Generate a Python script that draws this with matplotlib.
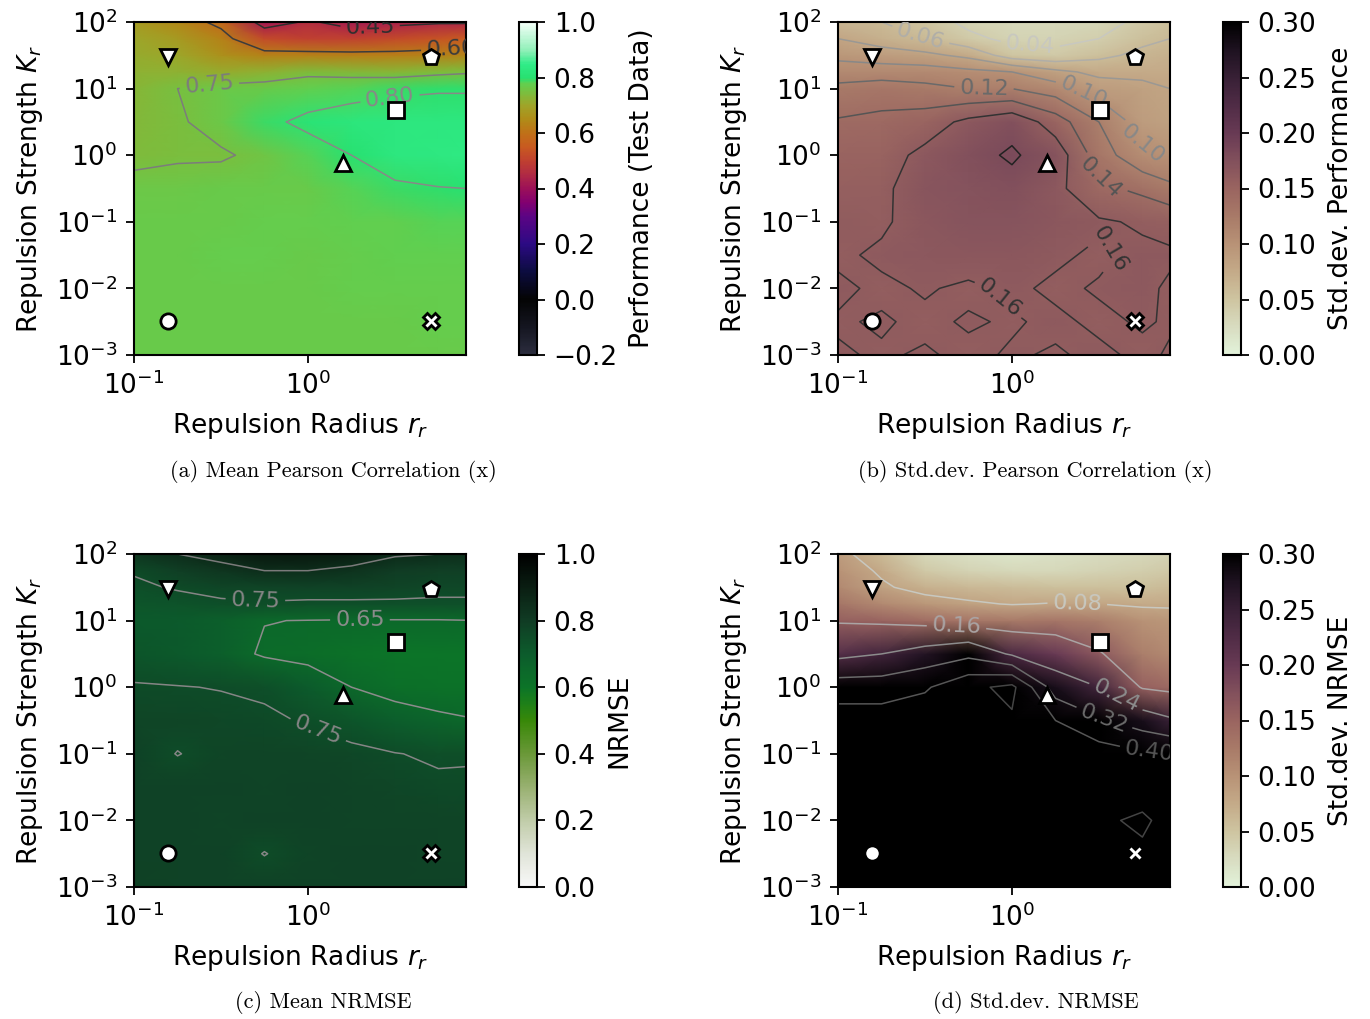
import numpy as np
import matplotlib
matplotlib.use("Agg")
import matplotlib.pyplot as plt
from matplotlib.colors import LinearSegmentedColormap, Normalize
from matplotlib.ticker import FuncFormatter

# grid of the parameter sweep
r_r = [0.1, 0.178, 0.316, 0.562, 1.0, 1.78, 3.16, 5.62, 8.1]
k_r_top_down = [100, 56.2, 31.6, 17.8, 10, 3.16, 1.0, 0.316, 0.1, 0.0316, 0.01, 0.00316, 0.001]

# rows from K_r = 100 (top) down to K_r = 0.001 (bottom)
mean_pearson = [
    [0.68, 0.64, 0.58, 0.41, 0.46, 0.42, 0.43, 0.44, 0.44],
    [0.70, 0.68, 0.63, 0.52, 0.50, 0.50, 0.52, 0.54, 0.55],
    [0.71, 0.70, 0.66, 0.63, 0.63, 0.625, 0.625, 0.63, 0.635],
    [0.72, 0.72, 0.71, 0.72, 0.74, 0.735, 0.73, 0.74, 0.745],
    [0.73, 0.75, 0.765, 0.77, 0.775, 0.78, 0.79, 0.795, 0.795],
    [0.735, 0.745, 0.765, 0.79, 0.81, 0.825, 0.83, 0.83, 0.83],
    [0.74, 0.745, 0.745, 0.76, 0.78, 0.80, 0.83, 0.835, 0.84],
    [0.762, 0.765, 0.77, 0.77, 0.77, 0.78, 0.79, 0.798, 0.80],
    [0.77, 0.77, 0.77, 0.772, 0.772, 0.775, 0.778, 0.78, 0.78],
    [0.768, 0.77, 0.772, 0.772, 0.77, 0.772, 0.775, 0.775, 0.775],
    [0.768, 0.77, 0.77, 0.77, 0.77, 0.772, 0.772, 0.772, 0.772],
    [0.768, 0.768, 0.77, 0.77, 0.77, 0.77, 0.77, 0.772, 0.772],
    [0.768, 0.768, 0.77, 0.77, 0.77, 0.77, 0.77, 0.77, 0.77],
]
std_pearson = [
    [0.065, 0.06, 0.05, 0.035, 0.03, 0.03, 0.032, 0.045, 0.055],
    [0.08, 0.07, 0.06, 0.045, 0.035, 0.035, 0.04, 0.055, 0.06],
    [0.095, 0.09, 0.085, 0.075, 0.05, 0.045, 0.055, 0.065, 0.07],
    [0.11, 0.11, 0.11, 0.105, 0.10, 0.085, 0.075, 0.075, 0.075],
    [0.125, 0.13, 0.125, 0.12, 0.12, 0.11, 0.09, 0.085, 0.08],
    [0.142, 0.145, 0.15, 0.165, 0.175, 0.15, 0.12, 0.09, 0.085],
    [0.15, 0.152, 0.165, 0.175, 0.182, 0.172, 0.13, 0.105, 0.10],
    [0.155, 0.157, 0.168, 0.172, 0.175, 0.165, 0.145, 0.135, 0.125],
    [0.16, 0.158, 0.166, 0.17, 0.17, 0.166, 0.162, 0.158, 0.155],
    [0.158, 0.162, 0.165, 0.166, 0.166, 0.162, 0.158, 0.163, 0.162],
    [0.162, 0.158, 0.161, 0.158, 0.162, 0.158, 0.161, 0.163, 0.158],
    [0.159, 0.161, 0.158, 0.161, 0.159, 0.162, 0.158, 0.161, 0.159],
    [0.161, 0.159, 0.161, 0.158, 0.161, 0.159, 0.162, 0.158, 0.161],
]
mean_nrmse = [
    [0.82, 0.85, 0.88, 0.92, 0.92, 0.90, 0.86, 0.85, 0.84],
    [0.755, 0.79, 0.82, 0.85, 0.85, 0.83, 0.80, 0.79, 0.79],
    [0.74, 0.755, 0.77, 0.775, 0.78, 0.78, 0.775, 0.765, 0.765],
    [0.72, 0.73, 0.74, 0.745, 0.74, 0.74, 0.74, 0.74, 0.74],
    [0.71, 0.705, 0.685, 0.652, 0.648, 0.645, 0.645, 0.645, 0.648],
    [0.72, 0.71, 0.685, 0.64, 0.625, 0.61, 0.60, 0.60, 0.60],
    [0.755, 0.752, 0.748, 0.74, 0.70, 0.65, 0.62, 0.61, 0.61],
    [0.77, 0.77, 0.765, 0.76, 0.745, 0.72, 0.69, 0.665, 0.655],
    [0.78, 0.748, 0.77, 0.775, 0.77, 0.765, 0.752, 0.742, 0.745],
    [0.78, 0.78, 0.778, 0.775, 0.778, 0.775, 0.768, 0.76, 0.758],
    [0.778, 0.78, 0.775, 0.78, 0.778, 0.776, 0.776, 0.774, 0.772],
    [0.78, 0.778, 0.78, 0.748, 0.775, 0.778, 0.778, 0.776, 0.776],
    [0.782, 0.78, 0.778, 0.78, 0.778, 0.778, 0.78, 0.778, 0.778],
]
std_nrmse = [
    [0.09, 0.06, 0.03, 0.02, 0.015, 0.02, 0.025, 0.03, 0.035],
    [0.10, 0.075, 0.045, 0.035, 0.03, 0.03, 0.035, 0.04, 0.045],
    [0.11, 0.085, 0.068, 0.062, 0.058, 0.055, 0.055, 0.055, 0.06],
    [0.13, 0.11, 0.095, 0.085, 0.078, 0.082, 0.08, 0.075, 0.075],
    [0.155, 0.15, 0.14, 0.13, 0.125, 0.13, 0.12, 0.10, 0.095],
    [0.22, 0.24, 0.27, 0.30, 0.23, 0.20, 0.165, 0.12, 0.11],
    [0.36, 0.36, 0.39, 0.46, 0.50, 0.28, 0.24, 0.155, 0.145],
    [0.44, 0.44, 0.45, 0.46, 0.47, 0.40, 0.33, 0.28, 0.25],
    [0.46, 0.47, 0.47, 0.46, 0.47, 0.46, 0.44, 0.41, 0.40],
    [0.47, 0.46, 0.47, 0.47, 0.46, 0.47, 0.46, 0.45, 0.44],
    [0.46, 0.47, 0.46, 0.47, 0.47, 0.46, 0.47, 0.49, 0.46],
    [0.47, 0.46, 0.47, 0.46, 0.47, 0.47, 0.46, 0.47, 0.46],
    [0.46, 0.47, 0.46, 0.47, 0.46, 0.47, 0.46, 0.47, 0.46],
]

# highlighted parameter settings
marker_shapes = ['v', 'p', 's', '^', 'o', 'X']
marker_r = [0.157, 5.1, 3.2, 1.6, 0.157, 5.1]
marker_k = [30, 30, 4.8, 0.76, 0.0032, 0.0032]

# colormaps
cmap_perf = LinearSegmentedColormap.from_list('perf', [
    (0.0 / 1.2, '#2b2d3e'), (0.1 / 1.2, '#141520'), (0.2 / 1.2, '#040404'),
    (0.3 / 1.2, '#0c0c40'), (0.4 / 1.2, '#2c0a84'), (0.5 / 1.2, '#5c0484'),
    (0.55 / 1.2, '#820070'), (0.6 / 1.2, '#9c1058'), (0.65 / 1.2, '#b02a44'),
    (0.7 / 1.2, '#c04030'), (0.75 / 1.2, '#c85a20'), (0.8 / 1.2, '#c07018'),
    (0.85 / 1.2, '#b08c18'), (0.9 / 1.2, '#a0a428'), (0.95 / 1.2, '#78c040'),
    (0.98 / 1.2, '#60d050'), (1.0 / 1.2, '#28e070'), (1.05 / 1.2, '#30ec88'),
    (1.1 / 1.2, '#90f0b8'), (1.0, '#f4fff8')])
cmap_std = LinearSegmentedColormap.from_list('std', [
    '#e2f2da', '#d8dcc0', '#cec4a0', '#c4aa88', '#b89276', '#a87a68', '#9a6460',
    '#82505c', '#683a54', '#502c46', '#382036', '#1e1220', '#000000'])
cmap_nrmse = LinearSegmentedColormap.from_list('nrmse', [
    (0.0, '#f8f8f8'), (0.1, '#e0e4d8'), (0.2, '#c0cca8'), (0.3, '#98b070'),
    (0.4, '#6a9838'), (0.5, '#388808'), (0.55, '#1e8018'), (0.6, '#0c7428'),
    (0.7, '#0c5c2c'), (0.8, '#103c24'), (0.9, '#0a1e12'), (1.0, '#000000')])

plt.rcParams['font.size'] = 19

W, H = 1370, 1019
fig = plt.figure(figsize=(W / 100, H / 100), dpi=100)


def px_rect(x0, y0, x1, y1):
    return [x0 / W, 1 - y1 / H, (x1 - x0) / W, (y1 - y0) / H]


# work in decades so shading and contours interpolate along the log axes
log_fmt = FuncFormatter(lambda v, pos: r'$\mathdefault{10^{%d}}$' % round(v))
LR, LK = np.meshgrid(np.log10(r_r), np.log10(k_r_top_down[::-1]))

panels = [
    dict(z=mean_pearson, cmap=cmap_perf, vmin=-0.2, vmax=1.0, ticks=np.linspace(-0.2, 1.0, 7),
         clabel='Performance (Test Data)', origin=(134, 22), cb=519,
         levels=[0.45, 0.6, 0.75, 0.8], lcolors=['#2e2e2e', '#3c3c3c', '#7c7c7c', '#888888'],
         labels=[(2.27, 90), (6.6, 50), (0.27, 12.6), (2.96, 7.2)],
         caption='(a) Mean Pearson Correlation (x)', cap_xy=(333, 471)),
    dict(z=std_pearson, cmap=cmap_std, vmin=0.0, vmax=0.3, ticks=np.linspace(0, 0.3, 7),
         clabel='Std.dev. Performance', origin=(838, 22), cb=1223,
         levels=[0.04, 0.06, 0.08, 0.10, 0.12, 0.14, 0.16, 0.18],
         lcolors=['#c8c8c0', '#b0aea8', '#9a9894', '#888888', '#6a6a6a', '#555555', '#333333', '#222222'],
         labels=[(0.30, 64), (1.27, 41), (0.69, 11.3), (2.63, 9.6), (5.3, 1.28), (3.1, 0.36),
                 (3.66, 0.038), (0.98, 0.0105)],
         caption='(b) Std.dev. Pearson Correlation (x)', cap_xy=(1035, 471)),
    dict(z=mean_nrmse, cmap=cmap_nrmse, vmin=0.0, vmax=1.0, ticks=np.linspace(0, 1.0, 6),
         clabel='NRMSE', origin=(134, 554), cb=519,
         levels=[0.55, 0.65, 0.75, 0.85], lcolors=['#8c8c8c', '#8c8c8c', '#858585', '#7a7a7a'],
         labels=[(0.50, 22.6), (1.99, 7.2), (1.17, 0.27)],
         caption='(c) Mean NRMSE', cap_xy=(323, 1002)),
    dict(z=std_nrmse, cmap=cmap_std, vmin=0.0, vmax=0.3, ticks=np.linspace(0, 0.3, 7),
         clabel='Std.dev. NRMSE', origin=(838, 554), cb=1223,
         levels=[0.08, 0.16, 0.24, 0.32, 0.40, 0.48],
         lcolors=['#c8c8c0', '#aaa4a4', '#8c8c8c', '#6a6a6a', '#555555', '#444444'],
         labels=[(2.37, 15.4), (0.48, 7.7), (4.2, 0.97), (3.3, 0.29), (6.2, 0.135)],
         caption='(d) Std.dev. NRMSE', cap_xy=(1036, 1002)),
]

for p in panels:
    x0, y0 = p['origin']
    ax = fig.add_axes(px_rect(x0, y0, x0 + 332, y0 + 333))
    z = np.flipud(np.array(p['z']))
    mesh = ax.pcolormesh(LR, LK, z, cmap=p['cmap'], norm=Normalize(p['vmin'], p['vmax']),
                         shading='gouraud', rasterized=True)
    cs = ax.contour(LR, LK, z, levels=p['levels'], colors=p['lcolors'], linewidths=1.1)
    pos = [(np.log10(a), np.log10(b)) for a, b in p['labels']]
    ax.clabel(cs, fmt='%.2f', fontsize=16, inline=True, manual=pos)
    for m, xr, yk in zip(marker_shapes, marker_r, marker_k):
        ax.plot(np.log10(xr), np.log10(yk), marker=m, ms=11 if m != 'p' else 12,
                mfc='white', mec='black', mew=2, ls='none', zorder=5)
    ax.set_xlim(-1, np.log10(8.1))
    ax.set_ylim(-3, 2)
    ax.set_xticks([-1, 0])
    ax.set_yticks([-3, -2, -1, 0, 1, 2])
    ax.xaxis.set_major_formatter(log_fmt)
    ax.yaxis.set_major_formatter(log_fmt)
    ax.tick_params(length=6, width=1.3, pad=6)
    for s in ax.spines.values():
        s.set_linewidth(1.5)
    ax.set_xlabel('Repulsion Radius $r_r$', labelpad=8)
    ax.set_ylabel('Repulsion Strength $K_r$', labelpad=8)

    cax = fig.add_axes(px_rect(p['cb'], y0, p['cb'] + 18, y0 + 333))
    cb = fig.colorbar(mesh, cax=cax, ticks=p['ticks'])
    cb.outline.set_linewidth(1.5)
    cax.tick_params(length=6, width=1.3, pad=6)
    cb.set_label(p['clabel'], labelpad=8)

    fig.text(p['cap_xy'][0] / W, 1 - p['cap_xy'][1] / H, p['caption'],
             family='cmr10', fontsize=16, ha='center', va='center')

fig.savefig('out.png', dpi=100)
